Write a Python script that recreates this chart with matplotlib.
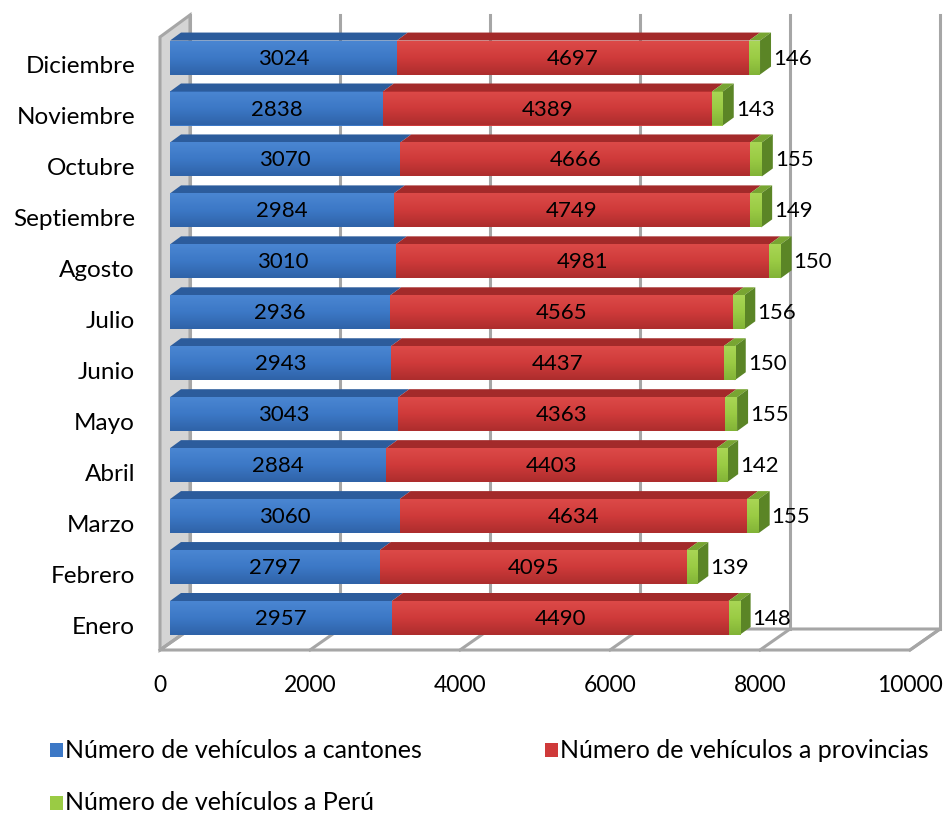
import matplotlib
matplotlib.use("Agg")
import matplotlib.pyplot as plt
from matplotlib.collections import PolyCollection
from matplotlib.colors import LinearSegmentedColormap
from matplotlib.patches import Polygon, Rectangle
import numpy as np

plt.rcParams['font.family'] = ['Lato', 'DejaVu Sans']

# --- datos ---
meses = ['Enero', 'Febrero', 'Marzo', 'Abril', 'Mayo', 'Junio', 'Julio',
         'Agosto', 'Septiembre', 'Octubre', 'Noviembre', 'Diciembre']
cantones = [2957, 2797, 3060, 2884, 3043, 2943, 2936, 3010, 2984, 3070, 2838, 3024]
provincias = [4490, 4095, 4634, 4403, 4363, 4437, 4565, 4981, 4749, 4666, 4389, 4697]
peru = [148, 139, 155, 142, 155, 150, 156, 150, 149, 155, 143, 146]
series_names = ['Número de vehículos a cantones',
                'Número de vehículos a provincias',
                'Número de vehículos a Perú']
ticks_x = [0, 2000, 4000, 6000, 8000, 10000]

# colores: frente (claro, medio, oscuro), tapa, lateral
C_BLUE = (('#4a86d2', '#3c78c6', '#2f63a8'), '#2c5c9c', '#23497d')
C_RED = (('#dc4a48', '#cf3a3a', '#ad2d2d'), '#a32a2a', '#7f2020')
C_GREEN = (('#a9d655', '#9acb44', '#82b337'), '#78a532', '#5b8526')

FS_NUM = 16
FS_TXT = 17.5
FS_LEG = 18

W, H = 945, 814
fig = plt.figure(figsize=(W / 100, H / 100), dpi=100)
ax = fig.add_axes([0, 0, 1, 1])

# escala: 2000 unidades = 150 px, cada categoria = 51 px
ux = 2000 / 150.0
uy = 1 / 50.95
x0_px, y0_px = 170, 618          # frente de la barra Enero en valor 0
xlim = (-x0_px * ux, (W - x0_px) * ux)
ylim = ((y0_px - H) * uy, y0_px * uy)

# profundidad de barra y del marco (en px)
bdx, bdy = 11 * ux, 8 * uy
bh = 34 * uy
fx_front, fx_back = -10 * ux, 20 * ux
fy_front, fy_back = (y0_px - 650) * uy, (y0_px - 629) * uy
top_front, top_back = (y0_px - 37) * uy, (y0_px - 15) * uy
xmax = ticks_x[-1]

grey = '#a6a6a6'
# pared izquierda
ax.add_patch(Polygon([(fx_front, fy_front), (fx_back, fy_back), (fx_back, top_back),
                      (fx_front, top_front)], closed=True, facecolor='#d4d4d4',
                     edgecolor=grey, lw=2.2, zorder=1))
# piso
ax.add_patch(Polygon([(fx_front, fy_front), (xmax + fx_front, fy_front),
                      (xmax + fx_back, fy_back), (fx_back, fy_back)], closed=True,
                     facecolor='white', edgecolor=grey, lw=2.2, zorder=1))
# lineas de division
for t in ticks_x:
    ax.plot([t + fx_back, t + fx_back], [fy_back, top_back], color=grey, lw=2.2, zorder=2)
    ax.plot([t + fx_front, t + fx_back], [fy_front, fy_back], color=grey, lw=2.2, zorder=2)
    ax.text(t + fx_front, (y0_px - 686) * uy, f'{t}', ha='center', va='center',
            fontsize=FS_NUM + 0.5, color='black')

y = np.arange(len(meses))
cant = np.array(cantones)
prov = np.array(provincias)
per = np.array(peru)

segments = [(np.zeros_like(cant), cant, C_BLUE),
            (cant, prov, C_RED),
            (cant + prov, per, C_GREEN)]

grad = np.linspace(0, 1, 64).reshape(-1, 1)
for left, width, col in segments:
    bars = ax.barh(y, width, left=left, height=bh, color=col[0][1], lw=0, zorder=5)
    # degradado vertical en la cara frontal
    cmap = LinearSegmentedColormap.from_list('g', [col[0][0], col[0][1], col[0][2]])
    for b in bars:
        bx, by = b.get_x(), b.get_y()
        im = ax.imshow(grad, cmap=cmap, aspect='auto', origin='upper',
                       extent=[bx, bx + b.get_width(), by, by + b.get_height()],
                       zorder=5.1, interpolation='bilinear')
        im.set_clip_path(b)
    tops = []
    for yi, l, w in zip(y, left, width):
        yt = yi + bh / 2
        tops.append([(l, yt), (l + w, yt), (l + w + bdx, yt + bdy), (l + bdx, yt + bdy)])
    ax.add_collection(PolyCollection(tops, facecolors=col[1], edgecolors='none', zorder=5))

# cara lateral del extremo
ends = cant + prov + per
sides = [[(e, yi - bh / 2), (e, yi + bh / 2), (e + bdx, yi + bh / 2 + bdy),
          (e + bdx, yi - bh / 2 + bdy)] for yi, e in zip(y, ends)]
ax.add_collection(PolyCollection(sides, facecolors=C_GREEN[2], edgecolors='none', zorder=5))

# etiquetas
for yi, c, p, g, e in zip(y, cant, prov, per, ends):
    ax.text(c / 2, yi - 1 * uy, f'{c}', ha='center', va='center', fontsize=FS_NUM, zorder=6)
    ax.text(c + p / 2, yi - 1 * uy, f'{p}', ha='center', va='center', fontsize=FS_NUM, zorder=6)
    ax.text(e + bdx + 2 * ux, yi - 1 * uy, f'{g}', ha='left', va='center',
            fontsize=FS_NUM, zorder=6)

for yi, m in zip(y, meses):
    ax.text(-35 * ux, yi - 9 * uy, m, ha='right', va='center', fontsize=FS_TXT)

ax.set_xlim(*xlim)
ax.set_ylim(*ylim)
ax.axis('off')

# leyenda
leg_pos = [(50, 750), (545, 750), (50, 803)]
for (px, py), name, col in zip(leg_pos, series_names, [C_BLUE, C_RED, C_GREEN]):
    fig.patches.append(Rectangle((px / W, 1 - (py + 7) / H), 13 / W, 14 / H,
                                 transform=fig.transFigure, facecolor=col[0][1],
                                 edgecolor='none'))
    fig.text((px + 15) / W, 1 - py / H, name, ha='left', va='center', fontsize=FS_LEG)

fig.savefig('out.png', dpi=100)
